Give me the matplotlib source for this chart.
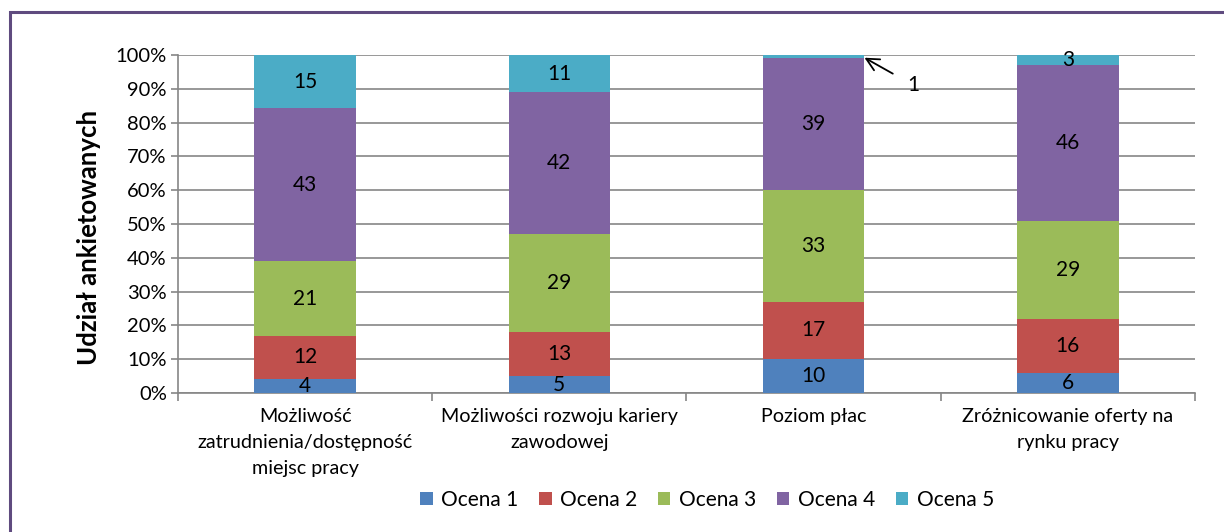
import matplotlib.pyplot as plt
import matplotlib.patches as patches
import numpy as np

plt.rcParams['font.family'] = ['Lato', 'DejaVu Sans']

categories = ["Możliwość\nzatrudnienia/dostępność\nmiejsc pracy",
              "Możliwości rozwoju kariery\nzawodowej",
              "Poziom płac",
              "Zróżnicowanie oferty na\nrynku pracy"]
series_names = ["Ocena 1", "Ocena 2", "Ocena 3", "Ocena 4", "Ocena 5"]
ocena1 = [4, 5, 10, 6]
ocena2 = [12, 13, 17, 16]
ocena3 = [21, 29, 33, 29]
ocena4 = [43, 42, 39, 46]
ocena5 = [15, 11, 1, 3]
colors = ['#4F81BD', '#C0504D', '#9BBB59', '#8064A2', '#4BACC6']

counts = np.array([ocena1, ocena2, ocena3, ocena4, ocena5], dtype=float)
shares = counts / counts.sum(axis=0) * 100

fig = plt.figure(figsize=(12.24, 5.32), dpi=100)
ax = fig.add_axes([0.1454, 0.2613, 0.9763 - 0.1454, 0.8966 - 0.2613])

# purple frame round the whole chart
fig.patches.append(patches.Rectangle((10 / 1224, -0.05), 1.1, 1 - 12 / 532 + 0.05,
                                     transform=fig.transFigure, fill=False,
                                     edgecolor='#5F4B7F', linewidth=2.2))

x = np.arange(len(categories))
bottom = np.zeros(len(categories))
for i in range(5):
    ax.bar(x, shares[i], 0.4, bottom=bottom, color=colors[i], label=series_names[i], zorder=3)
    for j in range(len(categories)):
        if counts[i, j] >= 3:
            ax.text(x[j], bottom[j] + shares[i, j] / 2, str(int(counts[i, j])),
                    ha='center', va='center', fontsize=15, zorder=4)
    bottom += shares[i]

# small segment gets label with arrow
ax.annotate("1", xy=(2.2, 99.2), xytext=(2.37, 91.0), fontsize=15,
            ha='left', va='center',
            arrowprops=dict(arrowstyle='->,head_length=0.6,head_width=0.3',
                            color='black', lw=1.3, shrinkA=10, shrinkB=0))

ax.set_xlim(-0.5, 3.5)
ax.set_ylim(0, 100)
ax.set_yticks(np.arange(0, 101, 10))
ax.set_yticklabels([f"{v}%" for v in range(0, 101, 10)], fontsize=14.5)
ax.yaxis.grid(True, color='#868686', linewidth=1.2, zorder=0)
ax.set_xticks(np.arange(-0.5, 3.6, 1))
ax.set_xticklabels([])
ax.set_xticks(x, minor=True)
ax.set_xticklabels(categories, minor=True, fontsize=14.2, linespacing=1.65)
ax.tick_params(axis='x', which='minor', length=0, pad=11)
ax.tick_params(axis='x', which='major', length=6, color='#868686', width=1.2)
ax.tick_params(axis='y', length=5, color='#868686', width=1.2, pad=3)
for s in ['top', 'right']:
    ax.spines[s].set_visible(False)
for s in ['left', 'bottom']:
    ax.spines[s].set_color('#868686')
    ax.spines[s].set_linewidth(1.2)

ax.set_ylabel("Udział ankietowanych", fontsize=18.5, fontweight='bold')
ax.yaxis.set_label_coords(-0.076, 0.46)

fig.legend(loc='center', bbox_to_anchor=(707 / 1224, 1 - 500 / 532), ncol=5,
           frameon=False, fontsize=15, handlelength=0.6, handleheight=0.6,
           handletextpad=0.4, columnspacing=1.0)

fig.savefig("out.png", dpi=100)
